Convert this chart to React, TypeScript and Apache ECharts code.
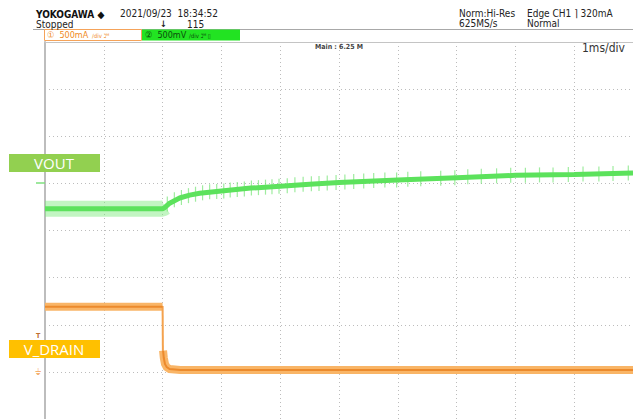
import React, { useEffect, useRef } from "react";
import * as echarts from "echarts";

// time in ms relative to trigger (1 ms/div), amplitude in screen divisions (0 = bottom)
const timeTicks = [-2, -1, 0, 1, 2, 3, 4, 5, 6, 7, 8];

const voutCore: [number, number][] = [
  [-2, 4.46], [0, 4.46], [0.03, 4.48], [0.12, 4.58], [0.29, 4.69], [0.46, 4.75],
  [0.63, 4.79], [1.0, 4.84], [1.5, 4.9], [2.0, 4.94], [2.5, 4.98], [3.0, 5.02],
  [4.0, 5.07], [5.0, 5.12], [6.0, 5.17], [7.0, 5.19], [8.0, 5.22],
];

const voutRippleBand: [number, number][] = [
  [-2, 4.46], [0, 4.46], [0.05, 4.5],
];

const voutSpikes: [number, number][] = [
  [0.08, 4.56], [0.2, 4.65], [0.32, 4.7], [0.44, 4.74], [0.56, 4.77], [0.68, 4.8],
  [0.8, 4.82], [0.92, 4.83], [1.04, 4.84], [1.15, 4.86], [1.27, 4.87], [1.39, 4.88],
  [1.51, 4.9], [1.63, 4.91], [1.75, 4.92], [1.86, 4.93], [1.98, 4.94], [2.12, 4.95],
  [2.25, 4.97], [2.39, 4.98], [2.53, 4.99], [2.66, 5.0], [2.8, 5.01], [2.95, 5.02],
  [3.1, 5.03], [3.25, 5.04], [3.42, 5.05], [3.59, 5.06], [3.78, 5.07], [3.98, 5.07],
  [4.17, 5.09], [4.39, 5.1], [4.73, 5.11], [4.97, 5.12], [5.19, 5.14], [5.42, 5.15],
  [5.68, 5.16], [5.92, 5.17], [6.17, 5.17], [6.41, 5.18], [6.64, 5.18], [6.9, 5.19],
  [7.15, 5.2], [7.42, 5.2], [7.66, 5.21], [7.92, 5.22],
];

const drainPre: [number, number][] = [[-2, 2.38], [0, 2.38]];
const drainDrop: [number, number][] = [[0, 2.4], [0.005, 1.45]];
const drainPost: [number, number][] = [
  [0.008, 1.45], [0.02, 1.3], [0.04, 1.17], [0.07, 1.1], [0.12, 1.06], [0.3, 1.04], [8, 1.04],
];

const FONT = "'DejaVu Sans Condensed', 'Liberation Sans Narrow', sans-serif";

export default function App() {
  const ref = useRef<HTMLDivElement>(null);
  useEffect(() => {
    if (!ref.current) return;
    const chart = echarts.init(ref.current, null, { renderer: "svg" });
    const txt = (x: number, y: number, text: string, style: any = {}) => ({
      type: "text",
      x,
      y,
      z: 100,
      style: { text, fill: "#222", font: `10px ${FONT}`, ...style },
    });
    const orange = (name: string, data: [number, number][], width: number, color: string, z: number) => ({
      name,
      type: "line",
      data,
      showSymbol: false,
      symbol: "none",
      lineStyle: { color, width, cap: "butt", join: "miter" },
      z,
    });
    chart.setOption({
      animation: false,
      backgroundColor: "#ffffff",
      grid: { left: 45, top: 42, width: 590, height: 377, containLabel: false },
      xAxis: {
        type: "value",
        min: -2,
        max: 8,
        interval: 1,
        position: "top",
        axisLine: { show: true, onZero: false, lineStyle: { color: "#c4c4c4", width: 1 } },
        axisTick: { show: false },
        axisLabel: { show: false },
        splitLine: { show: true, lineStyle: { type: [1, 3], color: "#bcbcbc", width: 1 } },
      },
      yAxis: {
        type: "value",
        min: 0,
        max: 8,
        interval: 1,
        axisLine: { show: true, onZero: false, lineStyle: { color: "#bdbdbd", width: 2 } },
        axisTick: { show: false },
        axisLabel: { show: false },
        splitLine: { show: true, lineStyle: { type: [1, 3], color: "#bcbcbc", width: 1 } },
      },
      series: [
        orange("V_DRAIN", drainPre, 8, "#F9B567", 3),
        orange("V_DRAIN edge", drainPre, 2, "#EC8A2C", 4),
        orange("V_DRAIN drop", drainDrop, 2, "#F4A24E", 3),
        orange("V_DRAIN after", drainPost, 8, "#F9B567", 3),
        orange("V_DRAIN after edge", drainPost, 2, "#EC8A2C", 4),
        {
          name: "VOUT ripple",
          type: "line",
          data: voutRippleBand,
          showSymbol: false,
          symbol: "none",
          lineStyle: { color: "rgba(120,232,120,0.45)", width: 16, cap: "butt" },
          z: 3,
        },
        {
          name: "VOUT spikes",
          type: "scatter",
          data: voutSpikes,
          symbol: "rect",
          symbolSize: [1.2, 15],
          itemStyle: { color: "rgba(105,225,105,0.8)" },
          z: 4,
        },
        {
          name: "VOUT",
          type: "line",
          data: voutCore,
          showSymbol: false,
          symbol: "none",
          lineStyle: { color: "#5CE25C", width: 5, cap: "butt" },
          z: 5,
        },
      ],
      graphic: [
        // header
        txt(36, 9, "YOKOGAWA ◆", { font: `bold 10px ${FONT}`, fill: "#111" }),
        txt(120, 8, "2021/09/23  18:34:52", { font: `10px ${FONT}` }),
        txt(36, 19, "Stopped", { font: `10px ${FONT}` }),
        txt(160, 19, "↓", { font: `bold 9px ${FONT}` }),
        txt(187, 19, "115", { font: `10px ${FONT}` }),
        txt(459, 8, "Norm:Hi-Res", { font: `10px ${FONT}` }),
        txt(459, 18, "625MS/s", { font: `10px ${FONT}` }),
        txt(527, 8, "Edge CH1 ⌉ 320mA", { font: `10px ${FONT}` }),
        txt(527, 18, "Normal", { font: `10px ${FONT}` }),
        {
          type: "line",
          z: 90,
          shape: { x1: 33, y1: 29.5, x2: 633, y2: 29.5 },
          style: { stroke: "#a8a8a8", lineWidth: 1 },
        },
        {
          type: "rect",
          z: 95,
          shape: { x: 44.5, y: 29.5, width: 97, height: 11 },
          style: { fill: "#ffffff", stroke: "#F5A35A", lineWidth: 1 },
        },
        txt(47, 30, "①  500mA", { font: `9px ${FONT}`, fill: "#F08A24" }),
        txt(92, 32, "/div ℷᴹ", { font: `6px ${FONT}`, fill: "#F08A24" }),
        {
          type: "rect",
          z: 95,
          shape: { x: 142, y: 29.5, width: 98, height: 11 },
          style: { fill: "#22E322" },
        },
        txt(145, 30, "②  500mV", { font: `9px ${FONT}`, fill: "#0B4D0B" }),
        txt(189, 32, "/div ℷᴹ ▯", { font: `6px ${FONT}`, fill: "#0B4D0B" }),
        txt(315, 43, "Main : 6.25 M", { font: `bold 7px ${FONT}`, fill: "#444" }),
        txt(582, 42, "1ms/div", { font: `12px ${FONT}`, fill: "#333" }),
        // channel labels
        {
          type: "rect",
          z: 95,
          shape: { x: 9, y: 154, width: 91, height: 18 },
          style: { fill: "#92D050" },
        },
        {
          type: "text",
          z: 100,
          x: 54,
          y: 163,
          style: {
            text: "VOUT",
            fill: "#ffffff",
            font: "15px 'Open Sans', 'Liberation Sans', sans-serif",
            align: "center",
            verticalAlign: "middle",
          },
        },
        {
          type: "rect",
          z: 95,
          shape: { x: 9, y: 340, width: 91, height: 18 },
          style: { fill: "#FFC000" },
        },
        {
          type: "text",
          z: 100,
          x: 54,
          y: 349,
          style: {
            text: "V_DRAIN",
            fill: "#ffffff",
            font: "15px 'Open Sans', 'Liberation Sans', sans-serif",
            align: "center",
            verticalAlign: "middle",
          },
        },
        // markers
        {
          type: "line",
          z: 90,
          shape: { x1: 36, y1: 183, x2: 45, y2: 183 },
          style: { stroke: "#7EE07E", lineWidth: 1.5 },
        },
        txt(36, 332, "T", { font: `bold 7px ${FONT}`, fill: "#C07030" }),
        txt(35, 367, "⏚", { font: `9px ${FONT}`, fill: "#F5B070" }),
      ],
    });
    return () => chart.dispose();
  }, []);
  return (
    <div
      ref={ref}
      style={{ position: "absolute", left: 0, top: 0, width: 633, height: 419 }}
    />
  );
}
